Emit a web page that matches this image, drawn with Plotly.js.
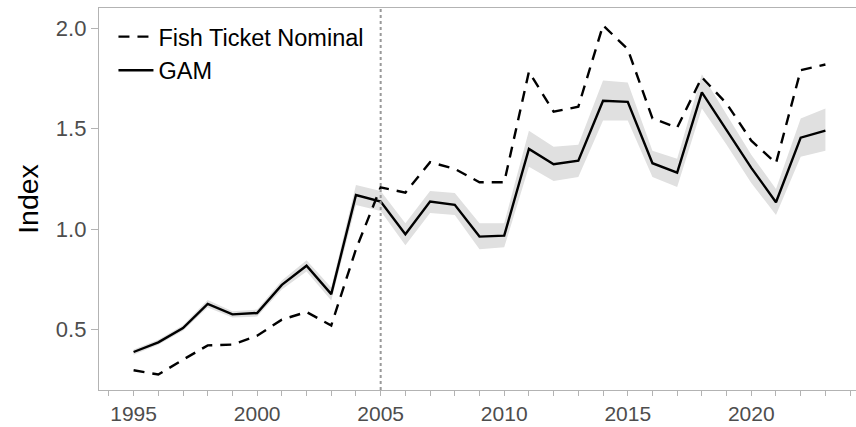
<!DOCTYPE html>
<html>
<head>
<meta charset="utf-8">
<script src="https://cdn.plot.ly/plotly-3.0.1.min.js"></script>
<style>
html,body{margin:0;padding:0;overflow:hidden;background:#fff;}
#chart{width:861px;height:427px;}
</style>
</head>
<body>
<div id="chart"></div>
<script>
const years = [1995,1996,1997,1998,1999,2000,2001,2002,2003,2004,2005,2006,2007,2008,2009,2010,2011,2012,2013,2014,2015,2016,2017,2018,2019,2020,2021,2022,2023];
const nominal = [0.298,0.277,0.351,0.422,0.426,0.470,0.550,0.588,0.521,0.900,1.208,1.182,1.333,1.300,1.233,1.233,1.783,1.584,1.609,2.014,1.895,1.551,1.505,1.755,1.625,1.440,1.328,1.791,1.819];
const gam = [0.389,0.437,0.508,0.628,0.576,0.583,0.723,0.818,0.677,1.170,1.137,0.975,1.137,1.121,0.963,0.968,1.399,1.323,1.341,1.639,1.633,1.328,1.281,1.680,1.493,1.305,1.134,1.455,1.490];
const gamLower = [0.375,0.425,0.495,0.610,0.560,0.565,0.700,0.790,0.645,1.120,1.090,0.920,1.080,1.070,0.900,0.910,1.310,1.240,1.260,1.540,1.540,1.260,1.210,1.600,1.420,1.230,1.070,1.360,1.390];
const gamUpper = [0.402,0.450,0.522,0.648,0.592,0.600,0.745,0.845,0.710,1.220,1.190,1.030,1.190,1.180,1.030,1.030,1.490,1.410,1.420,1.740,1.730,1.390,1.350,1.770,1.570,1.370,1.200,1.550,1.600];
const seriesNames = ["Fish Ticket Nominal","GAM"];
const yTicks = [0.5,1.0,1.5,2.0];
const xTicks = [1995,2000,2005,2010,2015,2020];
const splitYear = 2005;

const traces = [
  {x: years, y: gamLower, type:'scatter', mode:'lines', line:{width:0, color:'rgba(0,0,0,0)'}, showlegend:false, hoverinfo:'skip'},
  {x: years, y: gamUpper, type:'scatter', mode:'lines', fill:'tonexty', fillcolor:'#e0e0e0', line:{width:0, color:'rgba(0,0,0,0)'}, showlegend:false, hoverinfo:'skip'},
  {x: years, y: nominal, type:'scatter', mode:'lines', name: seriesNames[0], line:{color:'#000', width:2.4, dash:'11px,8px'}},
  {x: years, y: gam, type:'scatter', mode:'lines', name: seriesNames[1], line:{color:'#000', width:2.4}}
];

const layout = {
  width: 861, height: 427,
  margin: {l:99, r:1, t:8, b:37},
  paper_bgcolor:'#fff', plot_bgcolor:'#fff',
  font: {family:'"Liberation Sans", Arial, sans-serif', color:'#4d4d4d'},
  showlegend: true,
  legend: {x:0.019, y:0.982, xanchor:'left', yanchor:'top', traceorder:'normal', bgcolor:'rgba(255,255,255,0)', font:{size:23.5, color:'#000'}, tracegroupgap:0, itemwidth:35},
  xaxis: {
    range:[1993.6, 2024.4], showgrid:false, zeroline:false,
    showline:true, linecolor:'#b3b3b3', linewidth:1.2, mirror:true,
    tickmode:'array', tickvals: xTicks, ticktext: xTicks.map(String),
    ticks:'outside', ticklen:5, tickcolor:'#b3b3b3', tickwidth:1,
    minor:{dtick:1, tick0:1995, ticks:'outside', ticklen:5, tickcolor:'#b3b3b3', tickwidth:1, showgrid:false},
    tickfont:{size:21, color:'#4d4d4d'}
  },
  yaxis: {
    range:[0.2, 2.1], showgrid:false, zeroline:false,
    showline:true, linecolor:'#b3b3b3', linewidth:1.2, mirror:true,
    tickmode:'array', tickvals: yTicks, ticktext: yTicks.map(v=>v.toFixed(1)),
    ticks:'outside', ticklen:7, tickcolor:'#b3b3b3', tickwidth:1,
    tickfont:{size:22, color:'#4d4d4d'},
    title:{text:'Index', font:{size:28.5, color:'#000'}, standoff:8}
  },
  shapes: [
    {type:'line', xref:'x', yref:'paper', x0:splitYear, x1:splitYear, y0:0, y1:1, line:{color:'#999', width:2, dash:'dot'}}
  ]
};

Plotly.newPlot('chart', traces, layout, {displayModeBar:false, staticPlot:true});
</script>
</body>
</html>
